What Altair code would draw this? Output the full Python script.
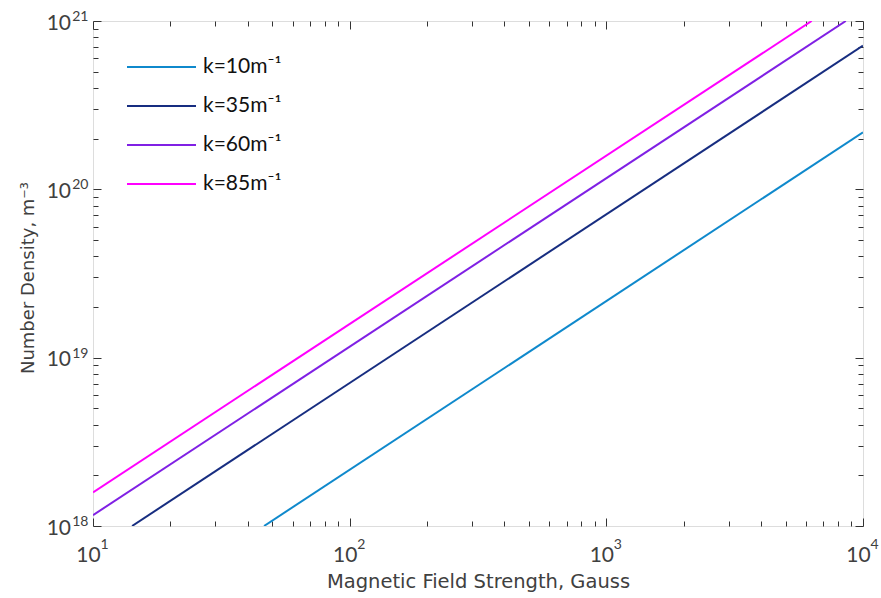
import altair as alt
import pandas as pd

# ---- data ----
series = ["k=10m⁻¹", "k=35m⁻¹", "k=60m⁻¹", "k=85m⁻¹"]
colors = ["#0f89cc", "#172d80", "#8020e4", "#ff00ff"]
b_start = [46.4, 14.2, 10.0, 10.0]
n_start = [1.0e18, 1.0e18, 1.16e18, 1.585e18]
b_end = [1.0e4, 1.0e4, 8570.0, 6310.0]
n_end = [2.18e20, 7.14e20, 1.0e21, 1.0e21]

x_major = [10, 100, 1000, 10000]
y_major = [1e18, 1e19, 1e20, 1e21]
x_ticks = [m * 10 ** e for e in range(1, 4) for m in range(1, 10)] + [10000]
y_ticks = [m * 10.0 ** e for e in range(18, 21) for m in range(1, 10)] + [1e21]

rows = []
for s, b0, n0, b1, n1 in zip(series, b_start, n_start, b_end, n_end):
    rows.append({"series": s, "B": b0, "n": n0, "o": 0})
    rows.append({"series": s, "B": b1, "n": n1, "o": 1})
df = pd.DataFrame(rows)

W, H = 770, 505
NUMFONT = "Lato"
TFONT = "DejaVu Sans"
GRAY = "#404040"
EXP = "format(round(log(datum.value)/LN10),'d')"
major_test = "abs(log(datum.value)/LN10 - round(log(datum.value)/LN10)) < 0.001"
tick_size = {"condition": {"test": major_test, "value": 8}, "value": 5}

xscale = alt.Scale(type="log", domain=[10, 10000], nice=False)
yscale = alt.Scale(type="log", domain=[1e18, 1e21], nice=False)

base = alt.Chart(df)

common = dict(ticks=False, tickSize=0, domain=False, grid=False, labelFlush=False,
              labelColor=GRAY, labelBaseline="alphabetic")

lines = base.mark_line(strokeWidth=2, clip=True).encode(
    x=alt.X("B:Q", scale=xscale,
            axis=alt.Axis(orient="bottom", values=x_major, labelExpr="'10'",
                          labelFontSize=21, labelFont=NUMFONT, labelAlign="center",
                          labelOffset=-5, labelPadding=35.5,
                          title="Magnetic Field Strength, Gauss", titleFontSize=19.5,
                          titleFont=TFONT, titleColor=GRAY, titleFontWeight="normal",
                          titleX=W / 2, titleY=61, titleBaseline="alphabetic",
                          titleAlign="center", **common)),
    y=alt.Y("n:Q", scale=yscale,
            axis=alt.Axis(orient="left", values=y_major, labelExpr="'10'",
                          labelFontSize=21, labelFont=NUMFONT, labelAlign="right",
                          labelOffset=8, labelPadding=22.5,
                          title="Number Density, m⁻³", titleFontSize=18,
                          titleFont=TFONT, titleColor=GRAY, titleFontWeight="normal",
                          titleX=-60, titleY=H / 2 + 4, titleBaseline="alphabetic",
                          titleAlign="center", titleAngle=270, **common)),
    color=alt.Color("series:N", scale=alt.Scale(domain=series, range=colors),
                    legend=alt.Legend(title=None, orient="none", legendX=33, legendY=26.5,
                                      symbolType="stroke", symbolStrokeWidth=2,
                                      symbolSize=4761, labelFontSize=21, labelFont=NUMFONT,
                                      labelColor="#111111", labelOffset=6, rowPadding=0,
                                      clipHeight=39, labelBaseline="middle", padding=0)),
    order="o:Q",
)

exps = base.mark_line(opacity=0).encode(
    x=alt.X("B:Q", scale=xscale,
            axis=alt.Axis(orient="bottom", values=x_major, labelExpr=EXP,
                          labelFontSize=14, labelFont=NUMFONT, labelAlign="left",
                          labelOffset=7, labelPadding=22, title=None, **common)),
    y=alt.Y("n:Q", scale=yscale,
            axis=alt.Axis(orient="left", values=y_major, labelExpr=EXP,
                          labelFontSize=14, labelFont=NUMFONT, labelAlign="right",
                          labelOffset=-0.5, labelPadding=5, title=None, **common)),
    detail="series:N",
)


def tick_layer(xorient, yorient):
    return base.mark_line(opacity=0).encode(
        x=alt.X("B:Q", scale=xscale,
                axis=alt.Axis(orient=xorient, offset=-H, values=x_ticks, labels=False,
                              domain=False, grid=False, title=None, tickSize=tick_size,
                              tickColor="#333333", tickWidth=1)),
        y=alt.Y("n:Q", scale=yscale,
                axis=alt.Axis(orient=yorient, offset=-W, values=y_ticks, labels=False,
                              domain=False, grid=False, title=None, tickSize=tick_size,
                              tickColor="#333333", tickWidth=1)),
        detail="series:N",
    )


chart = alt.layer(
    lines, exps, tick_layer("top", "right"), tick_layer("bottom", "left")
).resolve_axis(
    x="independent", y="independent"
).properties(
    width=W, height=H,
    autosize=alt.AutoSizeParams(type="none"),
    padding={"left": 93, "top": 21, "right": 18, "bottom": 72},
).configure_view(stroke="#333333", strokeWidth=1.2).configure(background="white")

chart.save("out.html", embed_options={"renderer": "svg", "actions": False})
